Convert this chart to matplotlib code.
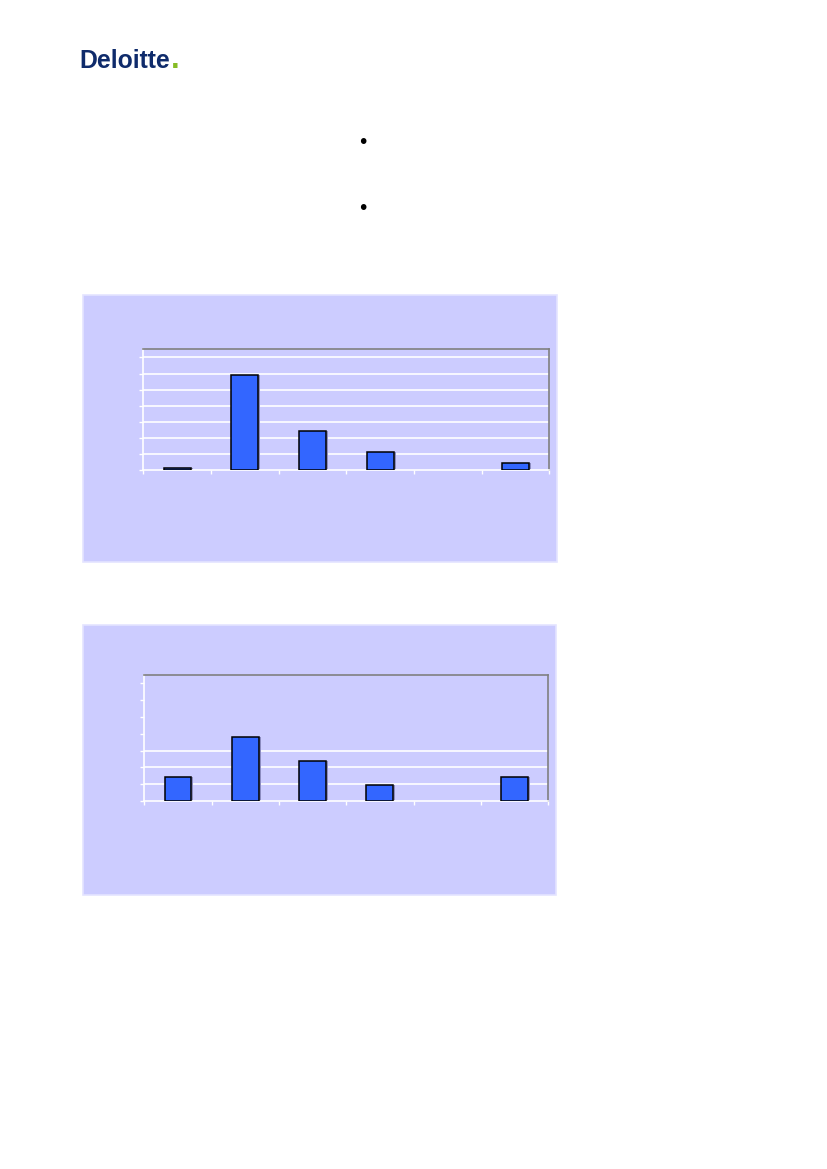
import matplotlib.pyplot as plt
from matplotlib.patches import Rectangle
import numpy as np

# bar values (percent, gridline step = 10)
categories = ['c1', 'c2', 'c3', 'c4', 'c5', 'c6']
values_top = [1.2, 58.8, 24.6, 11.2, 0.0, 4.4]
values_bottom = [14.3, 38.1, 23.8, 9.5, 0.0, 14.3]
y_ticks = [0, 10, 20, 30, 40, 50, 60, 70]
grid_top = [10, 20, 30, 40, 50, 60, 70]
grid_bottom = [10, 20, 30]

W, H = 827, 1169
panel_col = '#CCCCFF'
bar_col = '#3366FF'

fig = plt.figure(figsize=(W / 100, H / 100), dpi=100)
fig.patch.set_facecolor('white')


def box(x0, y0, x1, y1):
    # pixel box (top-left origin) -> figure fraction rect
    return [x0 / W, 1 - y1 / H, (x1 - x0) / W, (y1 - y0) / H]


def panel(x0, y0, x1, y1):
    r = box(x0, y0, x1, y1)
    fig.patches.append(Rectangle((r[0], r[1]), r[2], r[3], transform=fig.transFigure,
                                 facecolor=panel_col, edgecolor='#E4E4FF', lw=1.2, zorder=-5))


def bar_chart(rect, vals, grid):
    ax = fig.add_axes(rect)
    ax.set_facecolor(panel_col)
    x = np.arange(len(categories))
    # empty categories get no outline
    lw = [1.1 if v > 0 else 0 for v in vals]
    # soft shadow to the right of each bar
    ax.bar(x + 0.03, vals, width=0.4, color='#8C8CC0', linewidth=0, zorder=2)
    ax.bar(x, vals, width=0.4, color=bar_col, edgecolor='black', linewidth=lw, zorder=3)
    for g in grid:
        ax.axhline(g, color='white', lw=1.2, zorder=1)
    ax.set_xlim(-0.5, len(categories) - 0.5)
    ax.set_ylim(0, 75)
    ax.set_yticks(y_ticks)
    ax.set_xticks(np.arange(len(categories) + 1) - 0.5)
    ax.set_yticklabels([])
    ax.set_xticklabels([])
    ax.tick_params(axis='both', colors='white', length=3, width=1, direction='out')
    ax.spines['top'].set_color('#808080')
    ax.spines['right'].set_color('#808080')
    ax.spines['left'].set_color('white')
    ax.spines['bottom'].set_color('white')
    for s in ax.spines.values():
        s.set_linewidth(1.2)
    return ax


panel(83, 295, 557, 562)
bar_chart(box(143.3, 349.3, 549.3, 470.3), values_top, grid_top)

panel(83, 625, 556, 895)
bar_chart(box(144.3, 675, 548.3, 801), values_bottom, grid_bottom)

# Deloitte logo
logo = fig.text(79 / W, 1 - 68.3 / H, 'Deloitte', color='#0F2B6B', fontsize=17.8,
                fontweight='heavy', family='Liberation Sans', va='baseline', ha='left')
fig.canvas.draw()
x_end = logo.get_window_extent().x1
fig.text((x_end + 1) / W, 1 - 68.3 / H, '.', color='#86BC25', fontsize=22,
         fontweight='bold', family='Liberation Sans', va='baseline', ha='left')

# bullet points
for yb in [143, 209]:
    fig.text(363 / W, 1 - yb / H, '•', fontsize=14, color='black', ha='center', va='center')

fig.savefig('out.png', dpi=100)
